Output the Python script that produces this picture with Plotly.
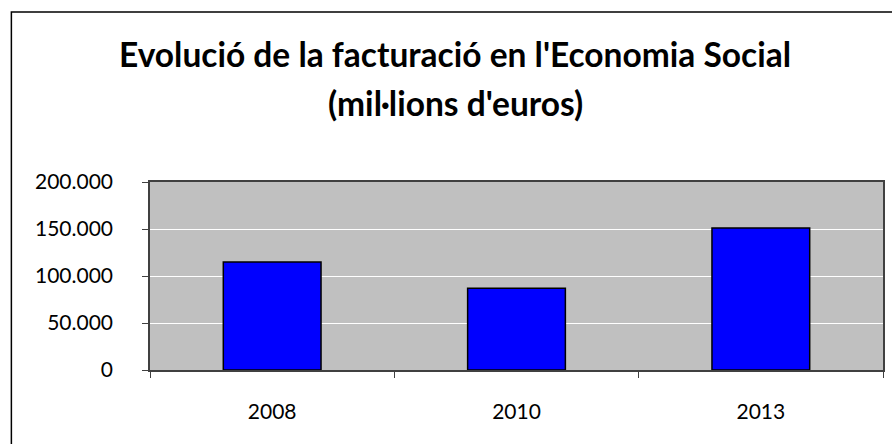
import plotly.graph_objects as go

years = ["2008", "2010", "2013"]
values = [115000, 87000, 151000]
title_line1 = "Evolució de la facturació en l'Economia Social"
title_line2 = "(mil·lions d'euros)"
y_ticks = [0, 50000, 100000, 150000, 200000]

W, H = 892, 444
L, R, T, B = 150, 7, 182, 74
PW, PH = W - L - R, H - T - B

def px(x):
    return (x - L) / PW

def py(y):
    return (H - B - y) / PH

FONT = "Lato"

fig = go.Figure(go.Bar(
    x=years, y=values, width=0.4,
    marker=dict(color="#0000FF", line=dict(color="#000000", width=1.5)),
))

fig.update_layout(
    width=W, height=H,
    margin=dict(l=L, r=R, t=T, b=B),
    paper_bgcolor="white", plot_bgcolor="#C0C0C0",
    separators=",.",
    showlegend=False,
    font=dict(family=FONT, color="#000000"),
    annotations=[
        dict(text="<b>" + title_line1 + "</b>", x=px(456), y=py(54), xref="paper", yref="paper",
             xanchor="center", yanchor="middle", showarrow=False, font=dict(size=33.5, family=FONT)),
        dict(text="<b>" + title_line2 + "</b>", x=px(456), y=py(103), xref="paper", yref="paper",
             xanchor="center", yanchor="middle", showarrow=False, font=dict(size=33.5, family=FONT)),
    ],
    shapes=[
        dict(type="rect", xref="paper", yref="paper", x0=px(11), x1=px(905), y0=py(12), y1=py(460),
             line=dict(color="#000000", width=1.5), layer="above"),
    ],
)

fig.update_xaxes(
    showline=True, linecolor="#404040", linewidth=1.5, mirror=True,
    ticks="outside", ticklen=6, tickcolor="#404040", tickson="boundaries",
    tickfont=dict(size=21, family=FONT), ticklabelstandoff=22,
    showgrid=False,
)
fig.update_yaxes(
    range=[0, 200000], tickvals=y_ticks, tickformat=",d",
    showline=True, linecolor="#404040", linewidth=1.5, mirror=True,
    ticks="outside", ticklen=6, tickcolor="#404040",
    tickfont=dict(size=21, family=FONT), ticklabelstandoff=25,
    showgrid=True, gridcolor="#FFFFFF", gridwidth=1, zeroline=False,
)

fig.write_html("out.html", config={"displayModeBar": False},
               post_script="document.body.style.margin='0';document.body.style.overflow='hidden';")
